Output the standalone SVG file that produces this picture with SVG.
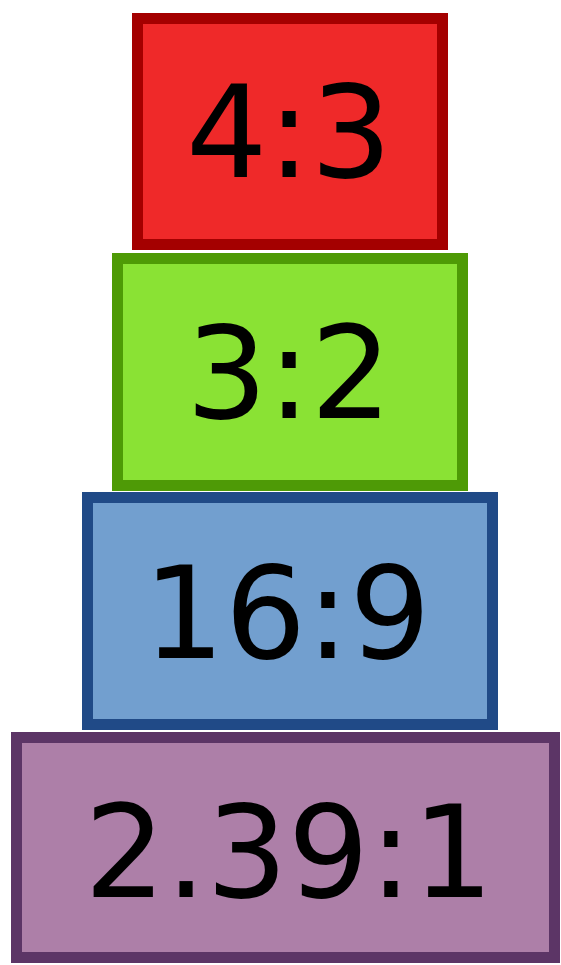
<svg xmlns="http://www.w3.org/2000/svg" width="561" height="965" viewBox="0 0 561 965">
<style>
.box{stroke-width:11}
.lbl{font-family:"DejaVu Sans",sans-serif;font-size:128px;fill:#000;text-anchor:middle}
</style>
<rect width="561" height="965" fill="#fff"/>
<g id="r43">
<rect class="box" x="137.5" y="18.5" width="305" height="226" fill="#ef2929" stroke="#a40000"/>
<text class="lbl" x="289" y="177">4:3</text>
</g>
<g id="r32">
<rect class="box" x="117.5" y="258.5" width="345" height="227" fill="#8ae234" stroke="#4e9a06"/>
<text class="lbl" x="289" y="418">3:2</text>
</g>
<g id="r169">
<rect class="box" x="87.5" y="497.5" width="405" height="227" fill="#729fcf" stroke="#204a87"/>
<text class="lbl" x="287" y="658">16:9</text>
</g>
<g id="r239">
<rect class="box" x="16.5" y="737.5" width="538" height="220" fill="#ad7fa8" stroke="#5c3566"/>
<text class="lbl" x="289" y="897">2.39:1</text>
</g>
<g id="connectors"/>
</svg>
